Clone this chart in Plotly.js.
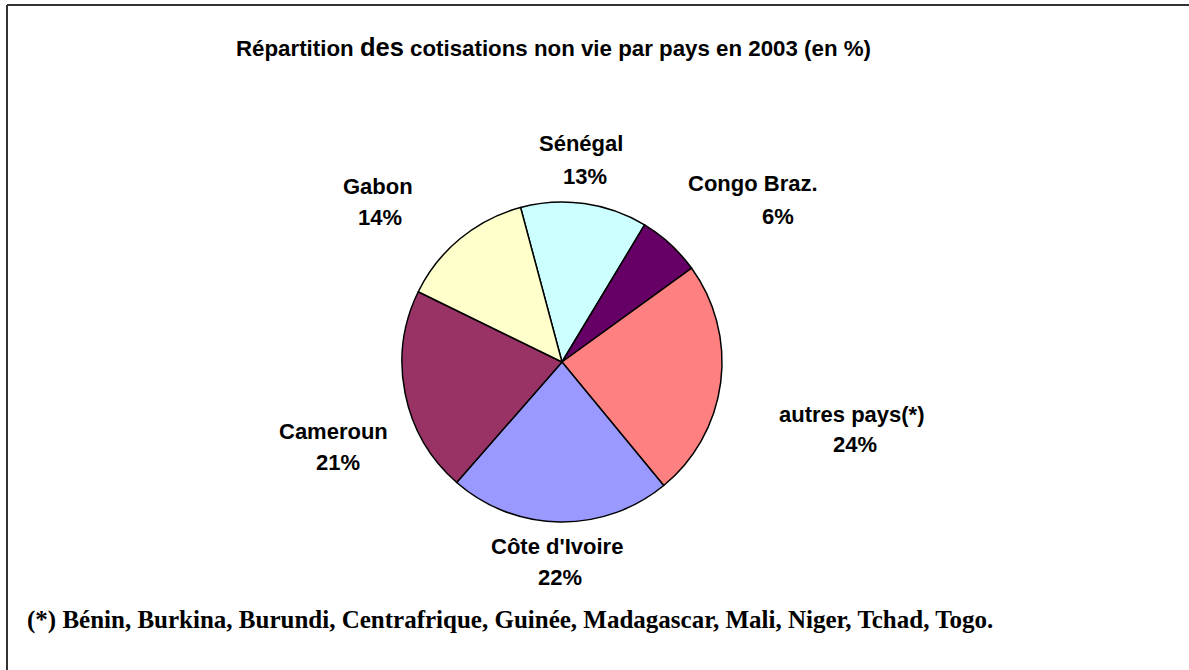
<!DOCTYPE html>
<html><head><meta charset="utf-8">
<script src="https://cdn.plot.ly/plotly-3.0.1.min.js"></script>
<style>html,body{margin:0;padding:0;background:#fff}</style>
</head><body>
<div id="chart" style="width:1189px;height:670px"></div>
<script>
// ---- data ----
const countries = ["Sénégal", "Congo Braz.", "autres pays(*)", "Côte d'Ivoire", "Cameroun", "Gabon"];
const shares = [12.8, 6.4, 24.0, 22.4, 20.8, 13.6];
const sliceColors = ["#CCFFFF", "#660066", "#FF8080", "#9999FF", "#993366", "#FFFFCC"];
const chartTitle = "Répartition <span style=\"font-size:25.5px\">des</span> cotisations non vie par pays en 2003 (en %)";
const footnote = "(*) Bénin, Burkina, Burundi, Centrafrique, Guinée, Madagascar, Mali, Niger, Tchad, Togo.";

// ---- layout geometry (pixels) ----
const W = 1189, H = 670;
const pie = {cx: 562, cy: 362, r: 160};
// label line centres [nameX, nameY, pctX, pctY] in pixels, one per category
const labelSpots = [
  [581, 143, 585, 176],
  [753, 184, 778, 216],
  [852, 414, 855, 444],
  [557, 546, 560, 577],
  [333, 431, 338, 462],
  [378, 187, 380, 218]
];
const px = x => x / W;
const py = y => 1 - y / H;

const total = shares.reduce((a, b) => a + b, 0);
const pctText = shares.map(v => Math.round(v / total * 100) + "%");

const labelFont = {family: "Arial, 'Liberation Sans', sans-serif", size: 22, color: "#000"};
const annotations = [];
countries.forEach((c, i) => {
  const s = labelSpots[i];
  annotations.push({text: "<b>" + c + "</b>", x: px(s[0]), y: py(s[1]), xref: "paper", yref: "paper",
    xanchor: "center", yanchor: "middle", showarrow: false, font: labelFont});
  annotations.push({text: "<b>" + pctText[i] + "</b>", x: px(s[2]), y: py(s[3]), xref: "paper", yref: "paper",
    xanchor: "center", yanchor: "middle", showarrow: false, font: labelFont});
});
annotations.push({text: "<b>" + chartTitle + "</b>", x: px(553), y: py(47), xref: "paper", yref: "paper",
  xanchor: "center", yanchor: "middle", showarrow: false,
  font: {family: "Arial, 'Liberation Sans', sans-serif", size: 22.3, color: "#000"}});
annotations.push({text: "<b>" + footnote + "</b>", x: px(25), y: py(620), xref: "paper", yref: "paper",
  xanchor: "left", yanchor: "middle", showarrow: false,
  font: {family: "'Times New Roman', 'Liberation Serif', serif", size: 25, color: "#000"}});

const trace = {
  type: "pie",
  labels: countries,
  values: shares,
  sort: false,
  direction: "clockwise",
  rotation: -15,
  textinfo: "none",
  hoverinfo: "label+percent",
  marker: {colors: sliceColors, line: {color: "#000", width: 1.5}},
  domain: {x: [px(pie.cx - pie.r), px(pie.cx + pie.r)], y: [py(pie.cy + pie.r), py(pie.cy - pie.r)]},
  showlegend: false
};

const layout = {
  width: W, height: H,
  margin: {l: 0, r: 0, t: 0, b: 0},
  paper_bgcolor: "#fff",
  showlegend: false,
  annotations: annotations,
  shapes: [
    {type: "line", xref: "paper", yref: "paper", x0: px(7), x1: px(W + 5), y0: py(5), y1: py(5), line: {color: "#333", width: 2}},
    {type: "line", xref: "paper", yref: "paper", x0: px(7), x1: px(7), y0: py(5), y1: py(H + 5), line: {color: "#333", width: 2}}
  ]
};

Plotly.newPlot("chart", [trace], layout, {displayModeBar: false, staticPlot: true});
</script>
</body></html>
